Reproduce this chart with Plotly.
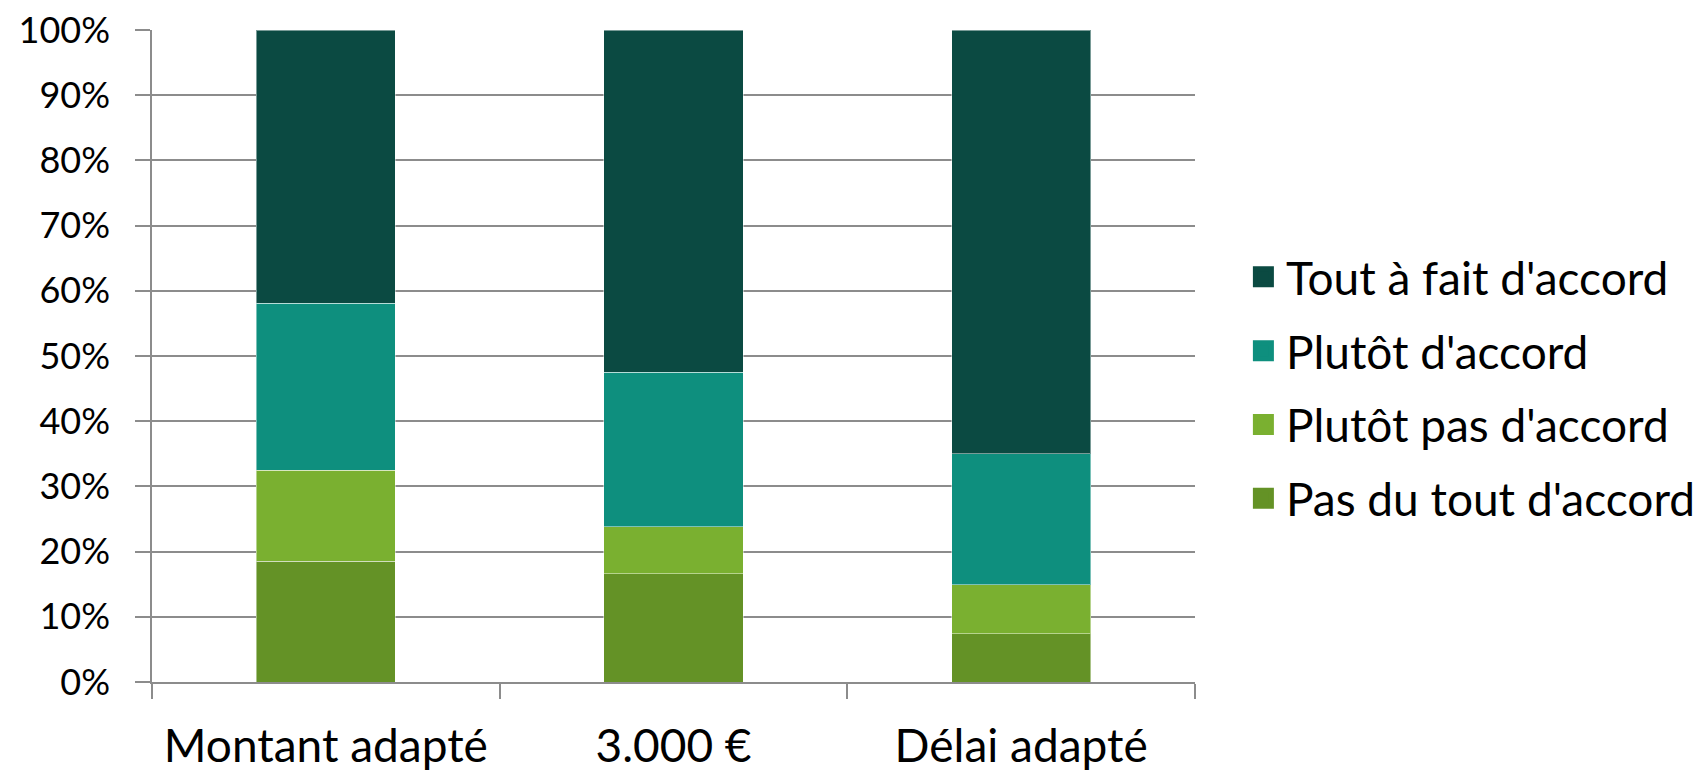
import plotly.graph_objects as go

categories = ["Montant adapté", "3.000 €", "Délai adapté"]
series_names = ["Pas du tout d'accord", "Plutôt pas d'accord", "Plutôt d'accord", "Tout à fait d'accord"]
pas_du_tout = [18.5, 16.6, 7.4]
plutot_pas = [14.0, 7.2, 7.5]
plutot = [25.6, 23.7, 20.1]
tout_a_fait = [41.9, 52.5, 65.0]
y_ticks = [0, 10, 20, 30, 40, 50, 60, 70, 80, 90, 100]
y_tick_labels = [f"{v}%" for v in y_ticks]

colors = ["#649226", "#7ab030", "#0e8f7e", "#0b4a42"]
values = [pas_du_tout, plutot_pas, plutot, tout_a_fait]

FONT = "Lato"
fig = go.Figure()
for name, vals, col in zip(series_names, values, colors):
    fig.add_trace(go.Bar(
        x=categories, y=vals, name=name, showlegend=False,
        marker=dict(color=col, line=dict(color="rgba(255,255,255,0.45)", width=1)),
    ))

# legend entries (large square swatches), top entry = top of stack
n = len(series_names)
for i, (name, col) in enumerate(zip(series_names, colors)):
    fig.add_trace(go.Scatter(
        x=[None], y=[None], mode="markers", name=name,
        legendgroup=name, legendrank=n - i,
        marker=dict(symbol="square", size=16, color=col, line=dict(color=col, width=5)),
    ))

grid = "#8c8c8c"
# page has an 8px body margin; compensate so the plot area lands where intended
fig.update_layout(
    barmode="stack",
    width=1688, height=763,
    margin=dict(l=144, r=501, t=22, b=89, autoexpand=False),
    paper_bgcolor="white", plot_bgcolor="white",
    bargap=0.6,
    font=dict(family=FONT, color="#000000"),
    showlegend=True,
    legend=dict(
        x=1.044, y=0.451, xanchor="left", yanchor="middle",
        traceorder="grouped", tracegroupgap=11,
        font=dict(size=46, family=FONT),
        itemwidth=35,
    ),
    xaxis=dict(
        automargin=False,
        showline=True, linecolor=grid, linewidth=1.5,
        ticks="outside", tickson="boundaries", ticklen=15, tickcolor=grid, tickwidth=1.5,
        tickfont=dict(size=46, family=FONT), ticklabelstandoff=23,
        ticklabeloverflow="allow",
        showgrid=False,
    ),
    yaxis=dict(
        automargin=False,
        range=[0, 100],
        tickvals=y_ticks, ticktext=y_tick_labels,
        showline=True, linecolor=grid, linewidth=1.5,
        ticks="outside", ticklen=15, tickcolor=grid, tickwidth=1.5,
        tickfont=dict(size=36, family=FONT), ticklabelstandoff=18,
        ticklabeloverflow="allow",
        showgrid=True, gridcolor=grid, gridwidth=1.5,
        zeroline=False,
    ),
)
fig.write_html("out.html")
